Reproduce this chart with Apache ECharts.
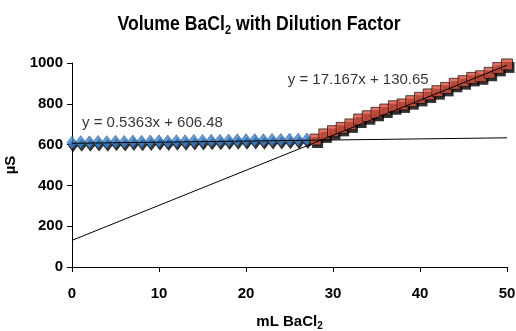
<!DOCTYPE html>
<html><head><meta charset="utf-8">
<script src="https://cdn.jsdelivr.net/npm/echarts@6/dist/echarts.min.js"></script>
<style>html,body{margin:0;padding:0;background:#fff}#c{width:516px;height:331px}</style>
</head><body><div id="c"></div>
<script>
// ---- data ----
const blueX = [0,1,2,3,4,5,6,7,8,9,10,11,12,13,14,15,16,17,18,19,20,21,22,23,24,25,26,27];
const blueY = [609,612,611,613,612,614,613,615,614,615,616,615,617,616,618,618,619,619,620,621,621,622,621,623,623,624,624,625];
const redX = [28,29,30,31,32,33,34,35,36,37,38,39,40,41,42,43,44,45,46,47,48,49,50];
const redY = [625,650,666,682,699,723,739,756,772,788,797,813,829,846,862,878,898,911,927,935,952,976,993];
const fitBlue = [0.5363, 606.48];   // slope, intercept
const fitRed = [17.167, 130.65];
const fitRange = [0, 50];
const eqBlue = 'y = 0.5363x + 606.48';
const eqRed = 'y = 17.167x + 130.65';
const xRange = [0, 50, 10];
const yRange = [0, 1000, 200];

const FONT = "'Liberation Sans', Arial, sans-serif";
const pts = (xs, ys) => xs.map((x, i) => [x, ys[i]]);
const fitLine = f => fitRange.map(x => [x, f[0] * x + f[1]]);

const chart = echarts.init(document.getElementById('c'), null, {renderer: 'canvas'});
chart.setOption({
  animation: false,
  backgroundColor: '#fff',
  graphic: [{
    type: 'text', x: 259, y: 24, scaleX: 0.84, z: 10,
    style: {
      text: '{t|Volume BaCl}{s|2}{t| with Dilution Factor}',
      align: 'center', verticalAlign: 'middle',
      rich: {
        t: {fontFamily: FONT, fontWeight: 'bold', fontSize: 21, fill: '#000', lineHeight: 26, verticalAlign: 'middle'},
        s: {fontFamily: FONT, fontWeight: 'bold', fontSize: 13, fill: '#000', lineHeight: 13, verticalAlign: 'bottom'}
      }
    }
  }],
  grid: {left: 72, right: 9, top: 63, bottom: 64, containLabel: false, outerBoundsMode: 'none'},
  xAxis: {
    type: 'value', min: xRange[0], max: xRange[1], interval: xRange[2],
    name: '{a|mL BaCl}{s|2}', nameLocation: 'middle', nameGap: 46,
    nameTextStyle: {rich: {
      a: {fontFamily: FONT, fontWeight: 'bold', fontSize: 15, color: '#000', lineHeight: 18, verticalAlign: 'middle'},
      s: {fontFamily: FONT, fontWeight: 'bold', fontSize: 10, color: '#000', lineHeight: 10, verticalAlign: 'bottom'}
    }},
    axisLine: {lineStyle: {color: '#000', width: 1}},
    axisTick: {show: true, inside: false, length: 5, lineStyle: {color: '#000'}},
    axisLabel: {fontFamily: FONT, fontWeight: 'bold', fontSize: 15, color: '#000', margin: 19, formatter: v => String(v)},
    splitLine: {show: false}
  },
  yAxis: {
    type: 'value', min: yRange[0], max: yRange[1], interval: yRange[2],
    name: 'µS', nameLocation: 'middle', nameGap: 51, nameRotate: 90,
    nameTextStyle: {fontFamily: FONT, fontWeight: 'bold', fontSize: 15, color: '#000'},
    axisLine: {show: true, lineStyle: {color: '#000', width: 1}},
    axisTick: {show: true, inside: false, length: 5, lineStyle: {color: '#000'}},
    axisLabel: {fontFamily: FONT, fontWeight: 'bold', fontSize: 15, color: '#000', margin: 9, formatter: v => String(v)},
    splitLine: {show: false}
  },
  series: [
    {type: 'scatter', name: 'blueShadow', data: pts(blueX, blueY), symbol: 'diamond', symbolSize: [10, 13],
     symbolOffset: [1, 3], itemStyle: {color: '#000'}, z: 1, clip: false, silent: true},
    {type: 'scatter', name: 'redShadow', data: pts(redX, redY), symbol: 'rect', symbolSize: [11, 11],
     symbolOffset: [2, 3], itemStyle: {color: '#000'}, z: 1, clip: false, silent: true},
    {type: 'scatter', name: 'blue', data: pts(blueX, blueY), symbol: 'diamond', symbolSize: [10, 13],
     itemStyle: {color: '#3d86d2', borderColor: '#1a3f6a', borderWidth: 0.6}, z: 2, clip: false},
    {type: 'scatter', name: 'red', data: pts(redX, redY), symbol: 'rect', symbolSize: [11, 11],
     itemStyle: {color: '#d9503f', borderColor: '#000', borderWidth: 0.8}, z: 2, clip: false},
    {type: 'line', name: 'fitBlue', data: fitLine(fitBlue), showSymbol: false, symbol: 'none',
     lineStyle: {color: '#000', width: 1}, z: 3, clip: false},
    {type: 'line', name: 'fitRed', data: fitLine(fitRed), showSymbol: false, symbol: 'none',
     lineStyle: {color: '#000', width: 1}, z: 3, clip: false},
    {type: 'scatter', name: 'eq', symbolSize: 0, z: 4, silent: true,
     data: [
       {value: [1.15, 708], label: {formatter: eqBlue}},
       {value: [24.8, 916], label: {formatter: eqRed}}
     ],
     label: {show: true, position: 'right', distance: 0, fontFamily: FONT, fontSize: 15, color: '#000'}}
  ]
});
</script></body></html>
